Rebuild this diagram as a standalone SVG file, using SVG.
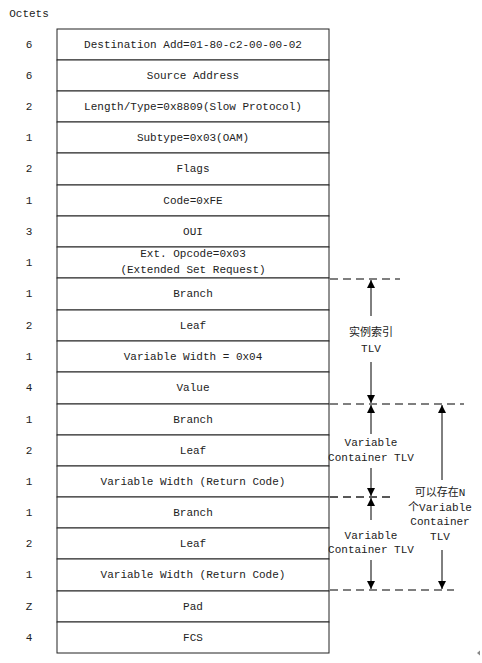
<svg xmlns="http://www.w3.org/2000/svg" width="482" height="663" viewBox="0 0 482 663">
<style>
text{font-family:"Liberation Mono","Noto Sans CJK SC",monospace;font-size:11px;fill:#222;text-anchor:middle;dominant-baseline:central}
.cell{fill:#fff;stroke:#222;stroke-width:1}
.dash{stroke:#555;stroke-width:1.3;stroke-dasharray:8 5;fill:none}
.arr{stroke:#000;stroke-width:1;fill:none}
</style>
<defs>
<marker id="ah" viewBox="0 0 8 10" refX="8" refY="5" markerWidth="8" markerHeight="10" markerUnits="userSpaceOnUse" orient="auto">
<path d="M0,1 L8,5 L0,9 Z" fill="#000"/>
</marker>
</defs>
<rect width="482" height="663" fill="#fff"/>
<text x="29" y="14">Octets</text>
<g id="rows">
<g id="r1"><rect class="cell" x="57" y="29" width="272" height="31"/><text x="29" y="44.5">6</text><text x="193" y="44.5">Destination Add=01-80-c2-00-00-02</text></g>
<g id="r2"><rect class="cell" x="57" y="60" width="272" height="31"/><text x="29" y="75.5">6</text><text x="193" y="75.5">Source Address</text></g>
<g id="r3"><rect class="cell" x="57" y="91" width="272" height="31"/><text x="29" y="106.5">2</text><text x="193" y="106.5">Length/Type=0x8809(Slow Protocol)</text></g>
<g id="r4"><rect class="cell" x="57" y="122" width="272" height="31"/><text x="29" y="137.5">1</text><text x="193" y="137.5">Subtype=0x03(OAM)</text></g>
<g id="r5"><rect class="cell" x="57" y="153" width="272" height="32"/><text x="29" y="169">2</text><text x="193" y="169">Flags</text></g>
<g id="r6"><rect class="cell" x="57" y="185" width="272" height="31"/><text x="29" y="200.5">1</text><text x="193" y="200.5">Code=0xFE</text></g>
<g id="r7"><rect class="cell" x="57" y="216" width="272" height="31"/><text x="29" y="231.5">3</text><text x="193" y="231.5">OUI</text></g>
<g id="r8"><rect class="cell" x="57" y="247" width="272" height="31"/><text x="29" y="262.5">1</text><text x="193" y="254">Ext. Opcode=0x03</text><text x="193" y="270">(Extended Set Request)</text></g>
<g id="r9"><rect class="cell" x="57" y="278" width="272" height="32"/><text x="29" y="294">1</text><text x="193" y="294">Branch</text></g>
<g id="r10"><rect class="cell" x="57" y="310" width="272" height="31"/><text x="29" y="325.5">2</text><text x="193" y="325.5">Leaf</text></g>
<g id="r11"><rect class="cell" x="57" y="341" width="272" height="31"/><text x="29" y="356.5">1</text><text x="193" y="356.5">Variable Width = 0x04</text></g>
<g id="r12"><rect class="cell" x="57" y="372" width="272" height="32"/><text x="29" y="388">4</text><text x="193" y="388">Value</text></g>
<g id="r13"><rect class="cell" x="57" y="404" width="272" height="31"/><text x="29" y="419.5">1</text><text x="193" y="419.5">Branch</text></g>
<g id="r14"><rect class="cell" x="57" y="435" width="272" height="31"/><text x="29" y="450.5">2</text><text x="193" y="450.5">Leaf</text></g>
<g id="r15"><rect class="cell" x="57" y="466" width="272" height="31"/><text x="29" y="481.5">1</text><text x="193" y="481.5">Variable Width (Return Code)</text></g>
<g id="r16"><rect class="cell" x="57" y="497" width="272" height="31"/><text x="29" y="512.5">1</text><text x="193" y="512.5">Branch</text></g>
<g id="r17"><rect class="cell" x="57" y="528" width="272" height="31"/><text x="29" y="543.5">2</text><text x="193" y="543.5">Leaf</text></g>
<g id="r18"><rect class="cell" x="57" y="559" width="272" height="32"/><text x="29" y="575">1</text><text x="193" y="575">Variable Width (Return Code)</text></g>
<g id="r19"><rect class="cell" x="57" y="591" width="272" height="31"/><text x="29" y="606.5">Z</text><text x="193" y="606.5">Pad</text></g>
<g id="r20"><rect class="cell" x="57" y="622" width="272" height="31"/><text x="29" y="637.5">4</text><text x="193" y="637.5">FCS</text></g>
</g>
<g id="connectors">
<line class="dash" x1="330" y1="279" x2="400" y2="279"/>
<line class="dash" x1="330" y1="404" x2="464" y2="404"/>
<line class="dash" x1="330" y1="497" x2="391" y2="497" style="stroke:#222"/>
<line class="dash" x1="330" y1="590" x2="454" y2="590"/>
<line class="arr" x1="371" y1="316" x2="371" y2="280" marker-end="url(#ah)"/>
<line class="arr" x1="371" y1="362" x2="371" y2="403" marker-end="url(#ah)"/>
<line class="arr" x1="371" y1="434" x2="371" y2="405" marker-end="url(#ah)"/>
<line class="arr" x1="371" y1="468" x2="371" y2="496" marker-end="url(#ah)"/>
<line class="arr" x1="371" y1="520" x2="371" y2="498" marker-end="url(#ah)"/>
<line class="arr" x1="371" y1="560" x2="371" y2="589" marker-end="url(#ah)"/>
<line class="arr" x1="442" y1="480" x2="442" y2="405" marker-end="url(#ah)"/>
<line class="arr" x1="442" y1="550" x2="442" y2="589" marker-end="url(#ah)"/>
</g>
<g id="labels">
<text x="371" y="333">实例索引</text>
<text x="371" y="349">TLV</text>
<text x="371" y="443">Variable</text>
<text x="371" y="458">Container TLV</text>
<text x="371" y="536">Variable</text>
<text x="371" y="550">Container TLV</text>
<text x="440" y="493">可以存在N</text>
<text x="440" y="508">个Variable</text>
<text x="440" y="522">Container</text>
<text x="440" y="537">TLV</text>
</g>
<path d="M477,653 L480,650.5 L480,655.5 Z" fill="#888"/>
</svg>
